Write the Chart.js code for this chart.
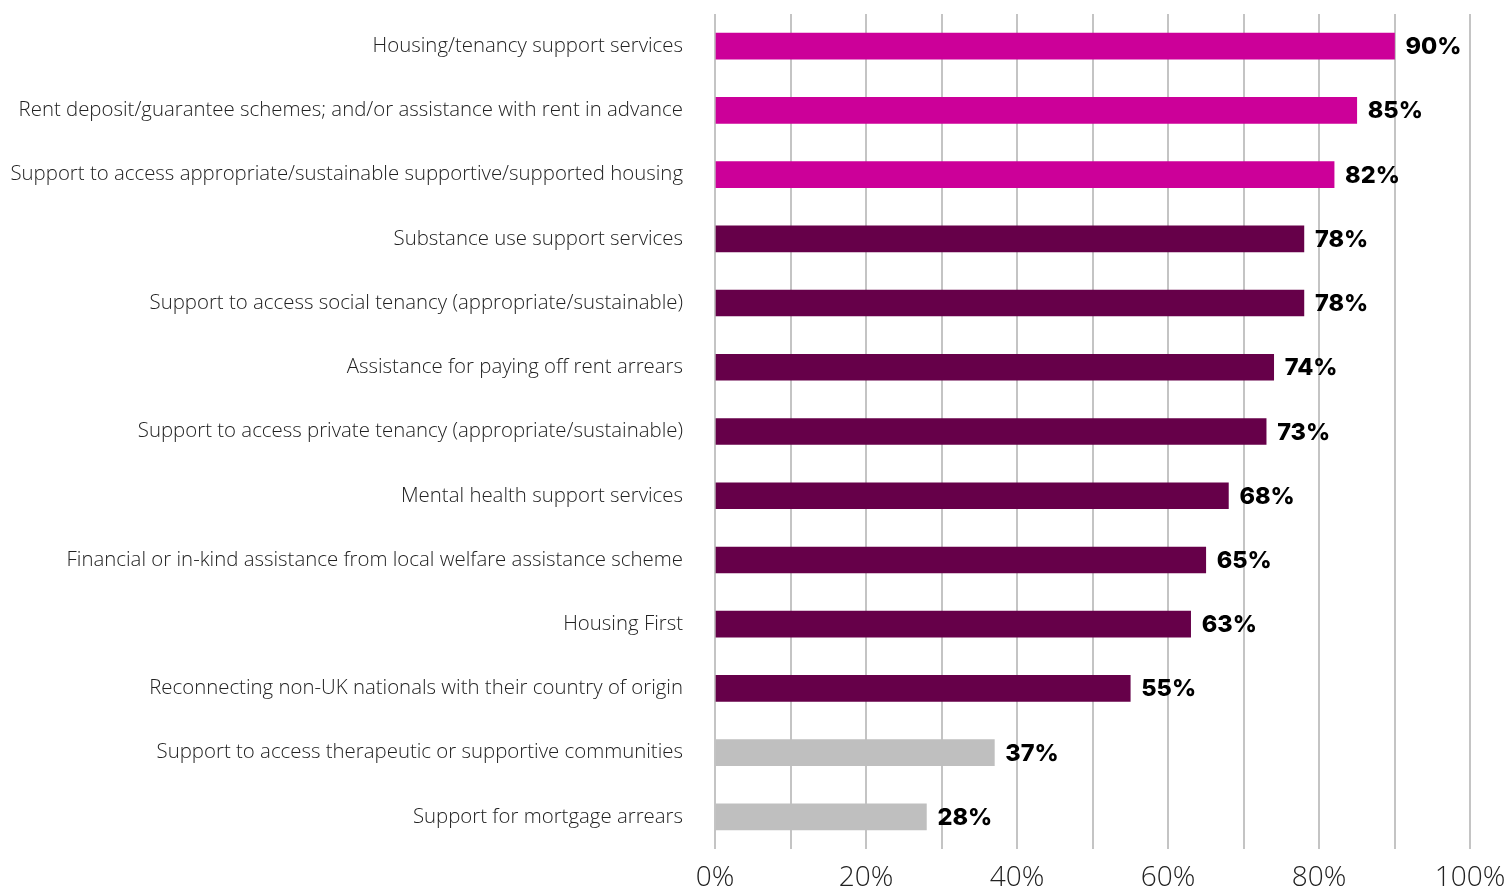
<!DOCTYPE html>
<html>
<head>
<meta charset="utf-8">
<script src="https://cdn.jsdelivr.net/npm/chart.js@4.4.1/dist/chart.umd.min.js"></script>
<style>
  html, body { margin: 0; padding: 0; background: #fff; }
  .wrap { width: 1511px; height: 889px; position: relative; }
</style>
</head>
<body>
<div class="wrap"><canvas id="servicesChart"></canvas></div>
<script>
const categories = [
  'Housing/tenancy support services',
  'Rent deposit/guarantee schemes; and/or assistance with rent in advance',
  'Support to access appropriate/sustainable supportive/supported housing',
  'Substance use support services',
  'Support to access social tenancy (appropriate/sustainable)',
  'Assistance for paying off rent arrears',
  'Support to access private tenancy (appropriate/sustainable)',
  'Mental health support services',
  'Financial or in-kind assistance from local welfare assistance scheme',
  'Housing First',
  'Reconnecting non-UK nationals with their country of origin',
  'Support to access therapeutic or supportive communities',
  'Support for mortgage arrears'
];
const percentages = [90, 85, 82, 78, 78, 74, 73, 68, 65, 63, 55, 37, 28];
// tier of each bar: top three, middle group, lowest two
const tiers = ['top', 'top', 'top', 'mid', 'mid', 'mid', 'mid', 'mid', 'mid', 'mid', 'mid', 'low', 'low'];
const tierColours = { top: '#CC0099', mid: '#660049', low: '#BFBFBF' };

const LABEL_FONT = '"Open Sans", "Noto Sans", sans-serif';
const VALUE_FONT = 'Inter, "Noto Sans", sans-serif';

// writes the value at the end of each bar
const valueLabels = {
  id: 'valueLabels',
  afterDatasetsDraw(chart) {
    const ctx = chart.ctx;
    const meta = chart.getDatasetMeta(0);
    ctx.save();
    ctx.font = '800 23.5px ' + VALUE_FONT;
    ctx.fillStyle = '#000';
    ctx.textAlign = 'left';
    ctx.textBaseline = 'middle';
    meta.data.forEach((bar, i) => {
      ctx.fillText(percentages[i] + '%', bar.x + 11, bar.y + 1);
    });
    ctx.restore();
  }
};

new Chart(document.getElementById('servicesChart'), {
  type: 'bar',
  data: {
    labels: categories,
    datasets: [{
      data: percentages,
      backgroundColor: tiers.map(t => tierColours[t]),
      barThickness: 26,
      borderWidth: 0
    }]
  },
  options: {
    indexAxis: 'y',
    responsive: true,
    maintainAspectRatio: false,
    animation: false,
    layout: { padding: { top: 14, right: 41, left: 0, bottom: 0 } },
    plugins: {
      legend: { display: false },
      tooltip: { enabled: false }
    },
    scales: {
      x: {
        min: 0,
        max: 100,
        ticks: {
          stepSize: 10,
          padding: 12,
          maxRotation: 0,
          minRotation: 0,
          autoSkip: false,
          color: '#222',
          font: { family: LABEL_FONT, size: 28, weight: 300 },
          callback: v => (v % 20 === 0 ? v + '%' : '')
        },
        grid: {
          color: '#C4C4C4',
          lineWidth: 2,
          drawTicks: false
        },
        border: { display: false },
        afterFit: scale => {
          scale.height = 40;
          scale.paddingLeft = 0;
          scale.paddingRight = 0;
        }
      },
      y: {
        ticks: {
          padding: 32,
          color: '#222',
          font: { family: LABEL_FONT, size: 20.4, weight: 300 }
        },
        grid: { display: false, drawTicks: false },
        border: { display: false },
        afterFit: scale => {
          scale.width = 715;
          // keep the label padding from pushing the plot area down
          scale.paddingTop = 0;
          scale.paddingBottom = 0;
        }
      }
    }
  },
  plugins: [valueLabels]
});
</script>
</body>
</html>
